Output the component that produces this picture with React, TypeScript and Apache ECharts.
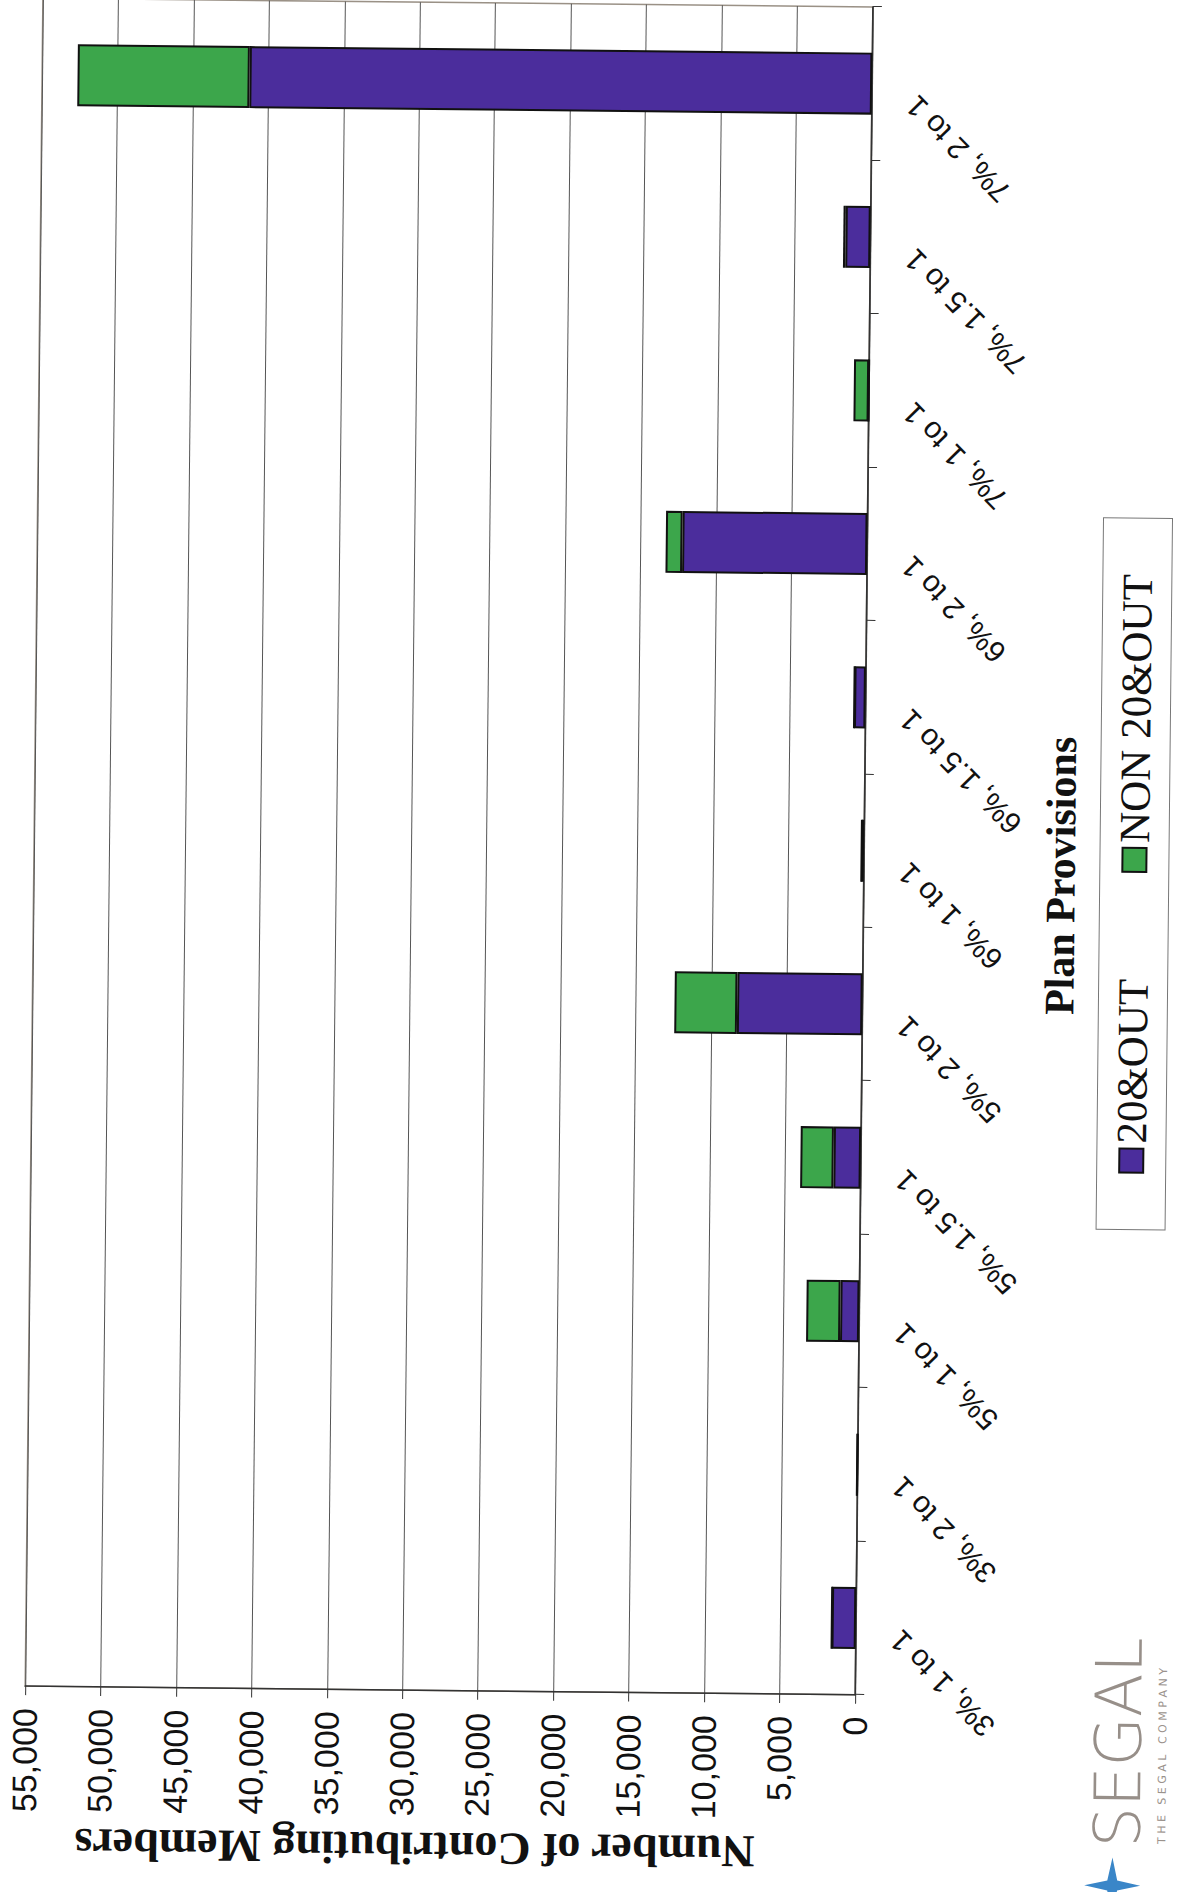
import React, { useEffect, useRef } from "react";
import * as echarts from "echarts";

const categories = [
  "3%, 1 to 1",
  "3%, 2 to 1",
  "5%, 1 to 1",
  "5%, 1.5 to 1",
  "5%, 2 to 1",
  "6%, 1 to 1",
  "6%, 1.5 to 1",
  "6%, 2 to 1",
  "7%, 1 to 1",
  "7%, 1.5 to 1",
  "7%, 2 to 1",
];
const out20Values = [1600, 30, 1250, 1800, 8300, 160, 750, 12250, 0, 1650, 41250];
const non20Values = [0, 0, 2250, 2200, 4150, 0, 0, 1100, 1000, 150, 11400];
const seriesNames = ["20&OUT", "NON 20&OUT"];
const yAxisTitle = "Number of Contributing Members";
const xAxisTitle = "Plan Provisions";
const logoText = "SEGAL";
const logoSub = "T H E   S E G A L   C O M P A N Y";

const PURPLE = "#4b2d9c";
const GREEN = "#3ca64b";

function Chart() {
  const ref = useRef<HTMLDivElement>(null);
  useEffect(() => {
    if (!ref.current) return;
    const chart = echarts.init(ref.current, undefined, { renderer: "svg" });
    const star = (cx: number, cy: number, R: number, r: number) => {
      const pts: number[][] = [];
      for (let i = 0; i < 8; i++) {
        const a = (Math.PI / 4) * i - Math.PI / 2;
        const rad = i % 2 === 0 ? R : r;
        pts.push([cx + rad * Math.cos(a), cy + rad * Math.sin(a)]);
      }
      return pts;
    };
    chart.setOption({
      animation: false,
      backgroundColor: "#ffffff",
      textStyle: { fontFamily: "Liberation Sans" },
      grid: {
        left: 200,
        right: 4,
        top: 33,
        bottom: 318,
        show: true,
        borderColor: "#9a9186",
        borderWidth: 1.5,
        containLabel: false,
        outerBoundsMode: "none",
      },
      legend: {
        left: 668,
        top: 1099,
        orient: "horizontal",
        padding: [13, 56],
        itemGap: 106,
        itemWidth: 24,
        itemHeight: 24,
        icon: "rect",
        borderColor: "#777",
        borderWidth: 1,
        textStyle: { fontFamily: "Liberation Serif", fontSize: 43, color: "#111" },
        data: seriesNames,
      },
      xAxis: {
        type: "category",
        data: categories,
        axisLine: { lineStyle: { color: "#333", width: 1.5 } },
        axisTick: { show: true, length: 9, lineStyle: { color: "#333" } },
        axisLabel: {
          rotate: 45,
          interval: 0,
          fontSize: 30,
          color: "#111",
          margin: 22,
          padding: [0, 24, 0, 0],
        },
        splitLine: { show: false },
      },
      yAxis: {
        type: "value",
        min: 0,
        max: 55000,
        interval: 5000,
        axisLine: { show: true, lineStyle: { color: "#333", width: 1.5 } },
        axisTick: { show: true, length: 9, lineStyle: { color: "#333" } },
        axisLabel: {
          fontSize: 34,
          color: "#111",
          margin: 22,
          formatter: (v: number) => v.toLocaleString("en-US"),
        },
        splitLine: { show: true, lineStyle: { color: "#555", width: 1 } },
      },
      series: [
        {
          name: seriesNames[0],
          type: "bar",
          stack: "total",
          data: out20Values,
          barWidth: 62,
          itemStyle: { color: PURPLE, borderColor: "#111", borderWidth: 2 },
        },
        {
          name: seriesNames[1],
          type: "bar",
          stack: "total",
          data: non20Values,
          barWidth: 62,
          itemStyle: { color: GREEN, borderColor: "#111", borderWidth: 2 },
        },
      ],
      graphic: [
        {
          type: "text",
          x: 42,
          y: 424,
          rotation: Math.PI / 2,
          style: {
            text: yAxisTitle,
            fontFamily: "Liberation Serif",
            fontWeight: "bold",
            fontSize: 46,
            fill: "#111",
            textAlign: "center",
            textVerticalAlign: "middle",
          },
        },
        {
          type: "text",
          x: 1021,
          y: 1060,
          style: {
            text: xAxisTitle,
            fontFamily: "Liberation Serif",
            fontWeight: "bold",
            fontSize: 42,
            fill: "#111",
            textAlign: "center",
            textVerticalAlign: "middle",
          },
        },
        {
          type: "text",
          x: 50,
          y: 1159,
          style: {
            text: logoText,
            fontFamily: "DejaVu Sans",
            fontWeight: 200,
            fontSize: 64,
            fill: "#978f89",
            textAlign: "left",
            textVerticalAlign: "bottom",
          },
        },
        {
          type: "text",
          x: 54,
          y: 1171,
          style: {
            text: logoSub,
            fontFamily: "DejaVu Sans",
            fontSize: 11,
            fill: "#9a928c",
            textAlign: "left",
            textVerticalAlign: "middle",
          },
        },
        {
          type: "polygon",
          shape: { points: star(12, 1122, 28, 7) },
          style: { fill: "#3a86c8" },
        },
      ],
    });
    return () => chart.dispose();
  }, []);
  return (
    <div
      ref={ref}
      style={{
        position: "absolute",
        left: 0,
        top: 0,
        width: 1892,
        height: 1181,
        transformOrigin: "0 0",
        transform: "translateY(1892px) rotate(-90deg)",
      }}
    />
  );
}

export default function App() {
  useEffect(() => {
    document.documentElement.style.overflow = "hidden";
    document.body.style.overflow = "hidden";
    document.body.style.margin = "0";
  }, []);
  return (
    <div
      style={{
        position: "absolute",
        left: 0,
        top: 0,
        width: 1181,
        height: 1892,
        overflow: "visible",
        transformOrigin: "590.5px 946px",
        transform: "rotate(0.6deg)",
      }}
    >
      <Chart />
    </div>
  );
}
